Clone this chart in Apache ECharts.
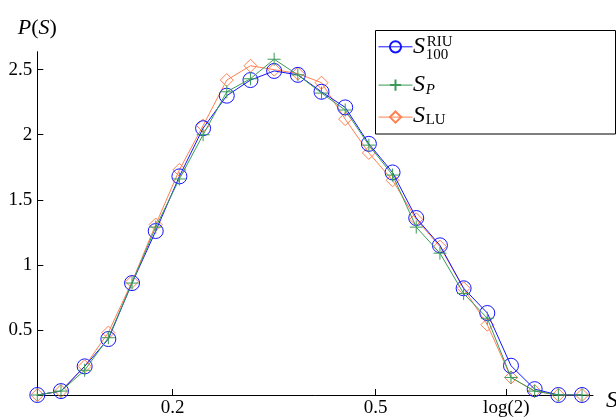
<!DOCTYPE html>
<html>
<head>
<meta charset="utf-8">
<script src="https://cdn.jsdelivr.net/npm/echarts@6/dist/echarts.min.js"></script>
<style>html,body{margin:0;padding:0;background:#fff;}#c{width:616px;height:418px;}</style>
</head>
<body>
<div id="c"></div>
<script>
var xValues = [0, 0.035, 0.07, 0.105, 0.14, 0.175, 0.21, 0.245, 0.28, 0.315, 0.35, 0.385,
  0.42, 0.455, 0.49, 0.525, 0.56, 0.595, 0.63, 0.665, 0.70, 0.735, 0.77, 0.805];
var sRIU = [0, 0.03, 0.22, 0.43, 0.86, 1.26, 1.68, 2.05, 2.30, 2.42, 2.49, 2.46,
  2.33, 2.21, 1.93, 1.71, 1.36, 1.15, 0.82, 0.63, 0.225, 0.045, 0, 0];
var sP = [0, 0.03, 0.19, 0.44, 0.86, 1.29, 1.66, 2.00, 2.33, 2.43, 2.58, 2.46,
  2.32, 2.19, 1.92, 1.69, 1.29, 1.09, 0.78, 0.59, 0.135, 0.03, 0, 0];
var sLU = [0, 0.03, 0.22, 0.48, 0.87, 1.31, 1.73, 2.07, 2.42, 2.53, 2.50, 2.47,
  2.40, 2.12, 1.86, 1.65, 1.35, 1.14, 0.82, 0.54, 0.135, 0.03, 0, 0];
var xTicks = [0.2, 0.5, 0.6931];
var xTickLabels = ['0.2', '0.5', 'log(2)'];
var yTicks = [0.5, 1, 1.5, 2, 2.5];
var yTickLabels = ['0.5', '1', '1.5', '2', '2.5'];

var FONT = 'Liberation Serif';
var BLUE = '#1414ff', GREEN = '#3a9a58', ORANGE = '#ff8050';

function pairs(ys) { return xValues.map(function (x, i) { return [x, ys[i]]; }); }

var chart = echarts.init(document.getElementById('c'), null, {renderer: 'canvas'});
chart.setOption({
  animation: false,
  backgroundColor: '#fff',
  grid: {left: 37.3, right: 23, top: 51.7, bottom: 22.5, containLabel: false},
  xAxis: {
    type: 'value', min: 0, max: 0.8212,
    splitLine: {show: false},
    axisLine: {show: true, onZero: false, lineStyle: {color: '#000', width: 1}},
    axisTick: {show: true, inside: true, length: 6, customValues: xTicks, lineStyle: {color: '#000'}},
    axisLabel: {
      customValues: xTicks, margin: 4, color: '#000', fontFamily: FONT, fontSize: 19,
      formatter: function (v) {
        for (var i = 0; i < xTicks.length; i++) if (Math.abs(v - xTicks[i]) < 1e-6) return xTickLabels[i];
        return '';
      }
    }
  },
  yAxis: {
    type: 'value', min: 0, max: 2.638,
    splitLine: {show: false},
    axisLine: {show: true, onZero: false, lineStyle: {color: '#000', width: 1}},
    axisTick: {show: true, inside: true, length: 6, customValues: yTicks, lineStyle: {color: '#000'}},
    axisLabel: {
      customValues: yTicks, margin: 5, color: '#000', fontFamily: FONT, fontSize: 19,
      formatter: function (v) {
        for (var i = 0; i < yTicks.length; i++) if (Math.abs(v - yTicks[i]) < 1e-6) return yTickLabels[i];
        return '';
      }
    },
    name: '{i|P}{r|(}{i|S}{r|)}', nameLocation: 'end', nameGap: 12,
    nameTextStyle: {
      rich: {
        i: {fontFamily: FONT, fontStyle: 'italic', fontSize: 22, color: '#000'},
        r: {fontFamily: FONT, fontSize: 22, color: '#000'}
      }
    }
  },
  legend: [
    {data: ['S100RIU'], left: 378, top: 38.7, itemWidth: 34, itemHeight: 14, padding: 0, lineStyle: {width: 1}, formatter: function () { return ''; }},
    {data: ['SP'], left: 378, top: 77, itemWidth: 34, itemHeight: 14, padding: 0, lineStyle: {width: 1}, formatter: function () { return ''; }},
    {data: ['SLU'], left: 378, top: 109, itemWidth: 34, itemHeight: 14, padding: 0, lineStyle: {width: 1}, formatter: function () { return ''; }}
  ],
  graphic: [
    {type: 'rect', shape: {x: 375.5, y: 30.5, width: 240, height: 103.5}, style: {fill: '#fff', stroke: '#000', lineWidth: 1}, z: -1, silent: true},
    {type: 'text', x: 413, y: 46.5, style: {text: 'S', font: 'italic 24px ' + FONT, fill: '#000', verticalAlign: 'middle'}},
    {type: 'text', x: 426.7, y: 41.7, style: {text: 'RIU', font: '15px ' + FONT, fill: '#000', verticalAlign: 'middle'}},
    {type: 'text', x: 425.7, y: 55.5, style: {text: '100', font: '15px ' + FONT, fill: '#000', verticalAlign: 'middle'}},
    {type: 'text', x: 413, y: 84.2, style: {text: 'S', font: 'italic 24px ' + FONT, fill: '#000', verticalAlign: 'middle'}},
    {type: 'text', x: 425.7, y: 90, style: {text: 'P', font: 'italic 15px ' + FONT, fill: '#000', verticalAlign: 'middle'}},
    {type: 'text', x: 413, y: 116, style: {text: 'S', font: 'italic 24px ' + FONT, fill: '#000', verticalAlign: 'middle'}},
    {type: 'text', x: 425.7, y: 120, style: {text: 'LU', font: '15px ' + FONT, fill: '#000', verticalAlign: 'middle'}},
    {type: 'text', x: 606, y: 401, style: {text: 'S', font: 'italic 24px ' + FONT, fill: '#000', verticalAlign: 'middle'}}
  ],
  series: [
    {
      name: 'S100RIU', type: 'line', data: pairs(sRIU), symbol: 'circle', symbolSize: 15, showAllSymbol: true,
      lineStyle: {color: BLUE, width: 1}, itemStyle: {color: 'none', borderColor: BLUE, borderWidth: 1}, z: 3
    },
    {
      name: 'SP', type: 'line', data: pairs(sP), symbol: 'path://M5,0L5,10M0,5L10,5', symbolSize: 13, showAllSymbol: true,
      lineStyle: {color: GREEN, width: 1}, itemStyle: {color: 'none', borderColor: GREEN, borderWidth: 1}, z: 4
    },
    {
      name: 'SLU', type: 'line', data: pairs(sLU), symbol: 'path://M5,0L10,5L5,10L0,5Z', symbolSize: 13, showAllSymbol: true,
      lineStyle: {color: ORANGE, width: 1}, itemStyle: {color: 'none', borderColor: ORANGE, borderWidth: 1}, z: 2
    }
  ]
});
</script>
</body>
</html>
